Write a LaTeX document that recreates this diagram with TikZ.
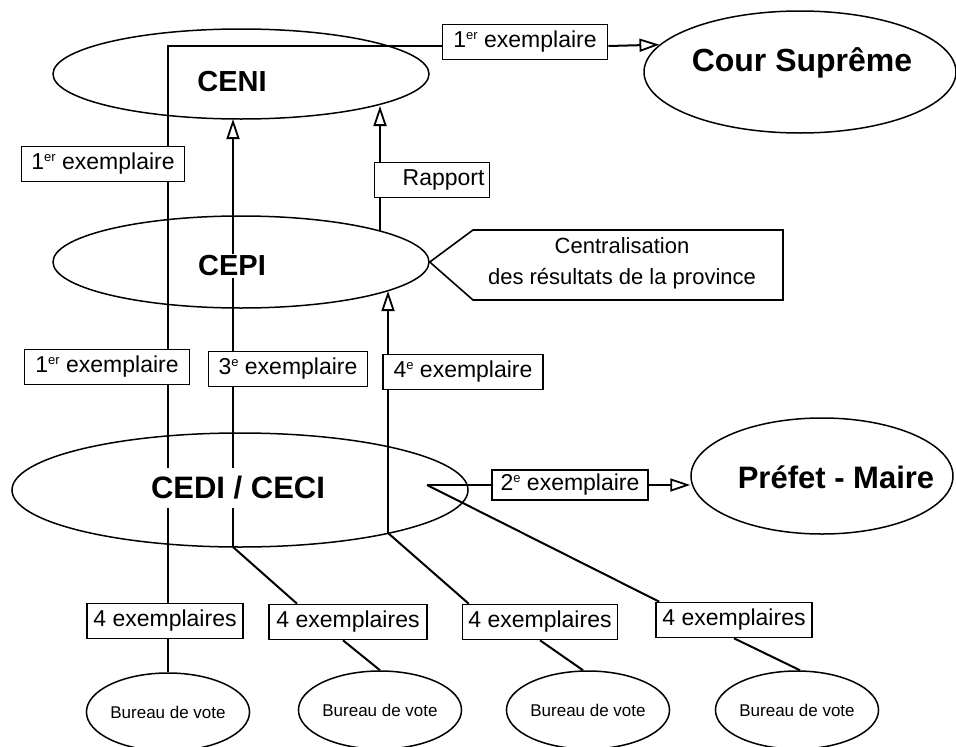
\documentclass[tikz,border=0pt]{standalone}
\usepackage{fontspec}
\setmainfont{Liberation Sans}
\usetikzlibrary{shapes.geometric,arrows.meta,backgrounds}
\newcommand\supx[1]{\raisebox{8.5pt}{\fontsize{13}{13}\selectfont #1}}
\begin{document}
\begin{tikzpicture}[x=1pt,y=-1pt,
  ell/.style={draw, ellipse, line width=1.5pt, inner sep=0pt},
  big/.style={font=\fontsize{29}{34}\selectfont\bfseries, inner sep=2pt, fill=white},
  lab/.style={draw, fill=white, line width=1.6pt, font=\fontsize{23}{27}\selectfont, inner xsep=4pt, inner ysep=0pt, minimum height=35pt},
  ln/.style={line width=2pt},
  arr/.style={line width=2pt, -{Triangle[open,length=20pt,width=13pt,line width=1.8pt]}},
  bv/.style={ell, font=\fontsize{17}{20}\selectfont, minimum width=147pt, minimum height=78pt}
]
\useasboundingbox (0,0) rectangle (956,747);

% ellipses
\node[ell, minimum width=376pt, minimum height=90pt] (ceni) at (241,74) {};
\node[ell, minimum width=312pt, minimum height=122pt] (cour) at (800,72) {};
\node[ell, minimum width=376pt, minimum height=92pt] (cepi) at (241,262) {};
\node[ell, minimum width=456pt, minimum height=114pt] (cedi) at (240,490) {};
\node[ell, minimum width=262pt, minimum height=116pt] (prefet) at (822,476) {};
\node[bv] (bv1) at (168,712) {Bureau de vote};
\node[bv] (bv2) at (380,710) {Bureau de vote};
\node[bv] (bv3) at (588,710) {Bureau de vote};
\node[bv, minimum width=150pt] (bv4) at (797,710) {Bureau de vote};

% ellipse texts
\node[big] (tceni) at (232,82) {CENI};
\node[big, font=\fontsize{32}{36}\selectfont\bfseries, fill=none] (tcour) at (802,63) {Cour Suprême};
\node[big] (tcepi) at (232,266) {CEPI};
\node[big, font=\fontsize{31}{36}\selectfont\bfseries, inner ysep=8pt] (tcedi) at (238,488) {CEDI / CECI};
\node[big, font=\fontsize{31}{36}\selectfont\bfseries, fill=none] (tpref) at (836,477) {Préfet - Maire};

% named points
\coordinate (k1) at (168,46);
\coordinate (a3) at (233,119);
\coordinate (b3) at (233,547);
\coordinate (a4) at (388,291);
\coordinate (b4) at (388,533);
\coordinate (ar) at (380,106);
\coordinate (br) at (380,231);
\coordinate (cc) at (427,485);
\coordinate (ct1) at (473,230);
\coordinate (ct2) at (783,230);
\coordinate (ct3) at (783,300);
\coordinate (ct4) at (473,300);

% callout
\draw[line width=1.6pt, fill=white] (cepi.east) -- (ct1) -- (ct2) -- (ct3) -- (ct4) -- cycle;
\node[align=center, font=\fontsize{22}{31}\selectfont] (cent) at (622,263) {Centralisation\\des résultats de la province};

% label boxes
\node[lab, minimum width=165pt] (r1) at (525,42) {1\supx{er} exemplaire};
\node[lab, minimum width=163pt] (s1) at (103,164) {1\supx{er} exemplaire};
\node[lab, text width=105pt, align=right, inner xsep=5pt] (rap) at (432,180) {Rapport};
\node[lab, minimum width=165pt] (q1) at (107,367) {1\supx{er} exemplaire};
\node[lab, minimum width=159pt] (q3) at (288,369) {3\supx{e} exemplaire};
\node[lab, minimum width=160pt] (q4) at (463,372) {4\supx{e} exemplaire};
\node[lab, minimum width=156pt, minimum height=30pt] (d2) at (570,485) {2\supx{e} exemplaire};
\node[lab, minimum width=156pt] (f1) at (165,621) {4 exemplaires};
\node[lab, minimum width=158pt] (f2) at (348,622) {4 exemplaires};
\node[lab, minimum width=155pt] (f3) at (540,622) {4 exemplaires};
\node[lab, minimum width=156pt] (f4) at (734,620) {4 exemplaires};

% connectors (behind boxes and labels)
\begin{scope}[on background layer]
\draw[ln] (bv1.north) -- (k1) -- (r1.west |- k1);
\draw[arr] (r1.east |- k1) -- (cour.169.6);
\draw[arr] (b3) -- (a3);
\draw[ln] (b3) -- ([xshift=-51pt]f2.north);
\draw[ln] ([xshift=-5pt]f2.south) -- (bv2.north);
\draw[arr] (b4) -- (a4);
\draw[ln] (b4) -- ([xshift=7pt]f3.north west);
\draw[ln] (f3.south) -- ([xshift=-5pt]bv3.north);
\draw[arr] (br) -- (ar);
\draw[ln] (cc) -- (cc -| d2.west);
\draw[arr] (d2.east) -- (d2.east -| prefet.west);
\draw[ln] (cc) -- ([xshift=4pt]f4.north west);
\draw[ln] (f4.south) -- ([xshift=3pt]bv4.north);
\end{scope}
\end{tikzpicture}
\end{document}
